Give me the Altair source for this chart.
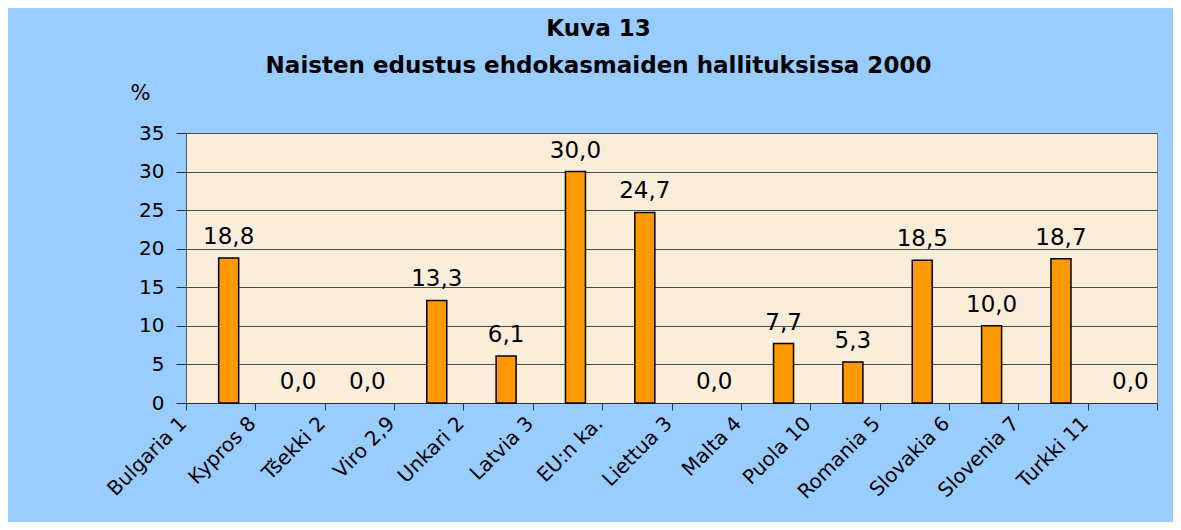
import altair as alt
import pandas as pd

countries = ["Bulgaria 1", "Kypros 8", "Tšekki 2", "Viro 2,9", "Unkari 2", "Latvia 3",
             "EU:n ka.", "Liettua 3", "Malta 4", "Puola 10", "Romania 5", "Slovakia 6",
             "Slovenia 7", "Turkki 11"]
values = [18.8, 0.0, 0.0, 13.3, 6.1, 30.0, 24.7, 0.0, 7.7, 5.3, 18.5, 10.0, 18.7, 0.0]
y_ticks = [0, 5, 10, 15, 20, 25, 30, 35]
title_lines = ["Kuva 13", "Naisten edustus ehdokasmaiden hallituksissa 2000"]

df = pd.DataFrame({"maa": countries, "osuus": values})

PLOT_W = 971
PLOT_H = 270
BAND = PLOT_W / len(countries)

x_enc = alt.X(
    "maa:N", sort=countries, title=None,
    scale=alt.Scale(paddingInner=0, paddingOuter=0),
    axis=alt.Axis(
        labelAngle=315, labelAlign="right", labelBaseline="middle",
        labelOffset=-BAND / 2 - 3, labelPadding=10, tickBand="extent", tickSize=7,
        labelFont="DejaVu Sans", labelFontSize=20, labelColor="#000000",
        domainColor="#333333", tickColor="#333333", labelOverlap=False,
    ),
)
y_enc = alt.Y(
    "osuus:Q", title="%",
    scale=alt.Scale(domain=[0, 35], nice=False),
    axis=alt.Axis(
        values=y_ticks, tickSize=10, labelPadding=12,
        labelFont="DejaVu Sans", labelFontSize=20, labelColor="#000000",
        domainColor="#555555", tickColor="#333333",
        grid=True, gridColor="#4d4d4d", gridWidth=1,
        titleAngle=0, titleAlign="center", titleBaseline="middle",
        titleX=-46, titleY=-40, titleFont="DejaVu Sans", titleFontSize=21,
        titleFontWeight="normal", titleColor="#000000",
    ),
)

base = alt.Chart(df).transform_calculate(
    lbl="replace(format(datum.osuus, '.1f'), '.', ',')"
)

bars = base.mark_bar(
    size=20, xOffset=8, color="#FF9900", stroke="#000000", strokeWidth=1.5
).encode(
    x=x_enc, y=y_enc,
    strokeOpacity=alt.condition("datum.osuus == 0", alt.value(0), alt.value(1)),
)

labels = base.mark_text(
    baseline="alphabetic", dy=-14, xOffset=8,
    font="DejaVu Sans", fontSize=23, color="#000000"
).encode(x=x_enc, y=y_enc, text="lbl:N")

chart = alt.layer(bars, labels).properties(
    width=PLOT_W, height=PLOT_H,
    title=alt.Title(
        text=title_lines, anchor="middle", frame="group", dx=-73, dy=6,
        font="DejaVu Sans", fontSize=23, fontWeight="bold", color="#000000",
        lineHeight=37, offset=10,
    ),
    autosize=alt.AutoSizeParams(type="none"),
    padding={"left": 178, "top": 125, "right": 16, "bottom": 119},
    background="#99CCFF",
).configure_view(
    fill="#FAEEDA", stroke="#808080", strokeWidth=1
)

chart.save("out.html", embed_options={"renderer": "svg", "actions": False})
